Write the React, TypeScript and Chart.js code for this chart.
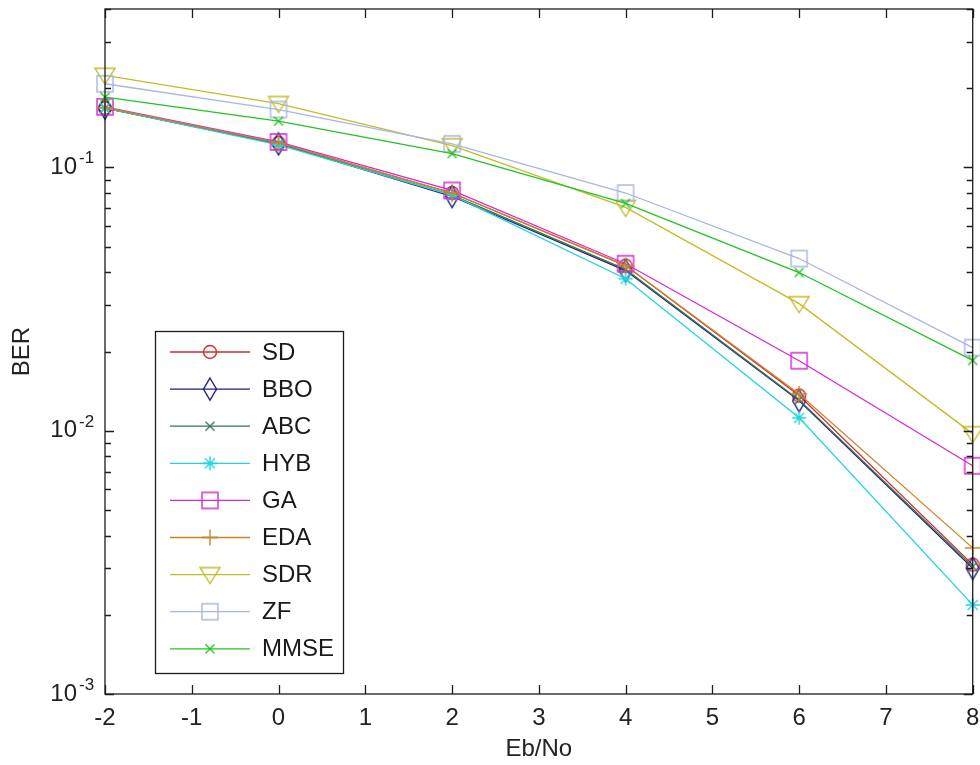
import React, { useEffect, useRef } from 'react';
import { Chart, registerables } from 'chart.js';

Chart.register(...registerables);

// ---------- data ----------
const ebNo = [-2, 0, 2, 4, 6, 8];
const seriesNames = ['SD', 'BBO', 'ABC', 'HYB', 'GA', 'EDA', 'SDR', 'ZF', 'MMSE'];
const sdBer = [0.168, 0.124, 0.080, 0.0424, 0.0136, 0.0031];
const bboBer = [0.168, 0.123, 0.0776, 0.0406, 0.0130, 0.0030];
const abcBer = [0.168, 0.123, 0.0785, 0.0410, 0.0131, 0.00305];
const hybBer = [0.168, 0.122, 0.0785, 0.0378, 0.0112, 0.00218];
const gaBer = [0.170, 0.125, 0.0818, 0.0431, 0.01845, 0.00736];
const edaBer = [0.169, 0.124, 0.0800, 0.0424, 0.0138, 0.00359];
const sdrBer = [0.224, 0.175, 0.121, 0.0705, 0.0304, 0.00975];
const zfBer = [0.208, 0.166, 0.123, 0.0800, 0.0451, 0.0207];
const mmseBer = [0.185, 0.150, 0.113, 0.0730, 0.0399, 0.0185];
const xTickValues = [-2, -1, 0, 1, 2, 3, 4, 5, 6, 7, 8];
const yDecades = [0.1, 0.01, 0.001];
const yDecadeExponents = ['-1', '-2', '-3'];
const xAxisTitle = 'Eb/No';
const yAxisTitle = 'BER';

const allSeries = [sdBer, bboBer, abcBer, hybBer, gaBer, edaBer, sdrBer, zfBer, mmseBer];
const seriesColors = ['#d42a2a', '#1e1e78', '#3a7458', '#22d4dc', '#d42ad4', '#c8862a', '#c4bc26', '#a8b6e2', '#22c422'];
const seriesMarkers = ['circle', 'diamond', 'x', 'star', 'square', 'plus', 'tri', 'square', 'x'];

const FONT = '"Liberation Sans", Arial, sans-serif';

function makeMarker(kind: string, color: string): HTMLCanvasElement {
  const s = 28;
  const c = document.createElement('canvas');
  c.width = s;
  c.height = s;
  const g = c.getContext('2d')!;
  g.strokeStyle = color;
  g.lineWidth = 1.4;
  const m = s / 2;
  g.beginPath();
  switch (kind) {
    case 'circle':
      g.arc(m, m, 6.5, 0, Math.PI * 2);
      break;
    case 'diamond':
      g.moveTo(m, m - 11);
      g.lineTo(m + 6.5, m);
      g.lineTo(m, m + 11);
      g.lineTo(m - 6.5, m);
      g.closePath();
      break;
    case 'x': {
      const r = 4.5;
      g.moveTo(m - r, m - r);
      g.lineTo(m + r, m + r);
      g.moveTo(m + r, m - r);
      g.lineTo(m - r, m + r);
      break;
    }
    case 'star': {
      const r = 7;
      const d = 5;
      g.moveTo(m, m - r);
      g.lineTo(m, m + r);
      g.moveTo(m - r, m);
      g.lineTo(m + r, m);
      g.moveTo(m - d, m - d);
      g.lineTo(m + d, m + d);
      g.moveTo(m + d, m - d);
      g.lineTo(m - d, m + d);
      break;
    }
    case 'square':
      g.rect(m - 8, m - 8, 16, 16);
      break;
    case 'plus':
      g.moveTo(m, m - 8);
      g.lineTo(m, m + 8);
      g.moveTo(m - 8, m);
      g.lineTo(m + 8, m);
      break;
    case 'tri':
      g.moveTo(m - 10, m - 7);
      g.lineTo(m + 10, m - 7);
      g.lineTo(m, m + 9);
      g.closePath();
      break;
  }
  g.stroke();
  return c;
}

const framePlugin = {
  id: 'matlabFrame',
  afterDraw(chart: any) {
    const { ctx, chartArea: a, scales } = chart;
    const xs = scales.x;
    const ys = scales.y;
    ctx.save();
    ctx.strokeStyle = '#1c1c1c';
    ctx.lineWidth = 1.3;
    ctx.strokeRect(a.left, a.top, a.right - a.left, a.bottom - a.top);
    ctx.beginPath();
    xTickValues.forEach((v) => {
      const px = Math.round(xs.getPixelForValue(v)) + 0.5;
      ctx.moveTo(px, a.bottom);
      ctx.lineTo(px, a.bottom - 9);
      ctx.moveTo(px, a.top);
      ctx.lineTo(px, a.top + 9);
    });
    [0.001, 0.01, 0.1].forEach((d) => {
      for (let k = 1; k <= 9; k++) {
        const v = k * d;
        if (v > ys.max * 1.0001) break;
        const len = k === 1 ? 9 : 6;
        const py = Math.round(ys.getPixelForValue(v)) + 0.5;
        ctx.moveTo(a.left, py);
        ctx.lineTo(a.left + len, py);
        ctx.moveTo(a.right, py);
        ctx.lineTo(a.right - len, py);
      }
    });
    ctx.stroke();

    // y decade labels 10^n
    ctx.fillStyle = '#222';
    yDecades.forEach((v, i) => {
      const py = ys.getPixelForValue(v);
      ctx.font = `24px ${FONT}`;
      ctx.textAlign = 'right';
      ctx.textBaseline = 'middle';
      ctx.fillText('10', 77, py);
      ctx.font = `17px ${FONT}`;
      ctx.textAlign = 'left';
      ctx.textBaseline = 'alphabetic';
      ctx.fillText(yDecadeExponents[i], 79, py - 4);
    });

    // legend
    const lx = 155, ly = 331, lw = 188, lh = 342;
    ctx.fillStyle = '#ffffff';
    ctx.fillRect(lx, ly, lw, lh);
    ctx.strokeStyle = '#1c1c1c';
    ctx.lineWidth = 1.3;
    ctx.strokeRect(lx + 0.5, ly + 0.5, lw, lh);
    chart.data.datasets.forEach((ds: any, i: number) => {
      const y = 352 + 37.1 * i;
      ctx.strokeStyle = ds.borderColor;
      ctx.lineWidth = ds.borderWidth;
      ctx.beginPath();
      ctx.moveTo(170, y);
      ctx.lineTo(250, y);
      ctx.stroke();
      const mk = ds.pointStyle as HTMLCanvasElement;
      ctx.drawImage(mk, 210 - mk.width / 2, y - mk.height / 2);
      ctx.fillStyle = '#1a1a1a';
      ctx.font = `24px ${FONT}`;
      ctx.textAlign = 'left';
      ctx.textBaseline = 'middle';
      ctx.fillText(ds.label, 262, y + 1);
    });
    ctx.restore();
  },
};

export default function App() {
  const ref = useRef<HTMLCanvasElement>(null);
  useEffect(() => {
    const canvas = ref.current!;
    const n = seriesNames.length;
    const datasets = seriesNames.map((name, i) => ({
      label: name,
      data: ebNo.map((x, j) => ({ x, y: allSeries[i][j] })),
      borderColor: seriesColors[i],
      backgroundColor: seriesColors[i],
      borderWidth: 1.3,
      pointStyle: makeMarker(seriesMarkers[i], seriesColors[i]),
      pointRadius: 6,
      pointHoverRadius: 6,
      tension: 0,
      fill: false,
      clip: false as any,
      order: n - i,
    }));
    const chart = new Chart(canvas, {
      type: 'line',
      data: { datasets },
      options: {
        responsive: false,
        devicePixelRatio: 1,
        animation: false,
        events: [],
        layout: { padding: { top: 9, right: 6, left: 0, bottom: 0 } },
        plugins: { legend: { display: false }, tooltip: { enabled: false } },
        scales: {
          x: {
            type: 'linear',
            min: -2,
            max: 8,
            grid: { display: false, drawTicks: false },
            border: { display: false },
            ticks: {
              stepSize: 1,
              padding: 10,
              color: '#222',
              font: { family: FONT, size: 24 },
              maxRotation: 0,
              autoSkip: false,
            },
            title: {
              display: true,
              text: xAxisTitle,
              color: '#222',
              font: { family: FONT, size: 24 },
              padding: { top: 0, bottom: 1 },
            },
            afterFit: (s: any) => {
              s.height = 71;
              s.paddingLeft = 0;
              s.paddingRight = 0;
            },
          },
          y: {
            type: 'logarithmic',
            min: 0.001,
            max: 0.4,
            grid: { display: false, drawTicks: false },
            border: { display: false },
            ticks: { display: false },
            title: {
              display: true,
              text: yAxisTitle,
              color: '#222',
              font: { family: FONT, size: 24 },
              padding: { top: 8, bottom: 0 },
            },
            afterFit: (s: any) => {
              s.width = 105;
              s.paddingTop = 0;
              s.paddingBottom = 0;
            },
          },
        },
      },
      plugins: [framePlugin],
    } as any);
    return () => chart.destroy();
  }, []);
  return (
    <div style={{ position: 'fixed', left: 0, top: 0, width: 980, height: 765, background: '#fff' }}>
      <canvas ref={ref} width={980} height={765} style={{ display: 'block', width: 980, height: 765 }} />
    </div>
  );
}
